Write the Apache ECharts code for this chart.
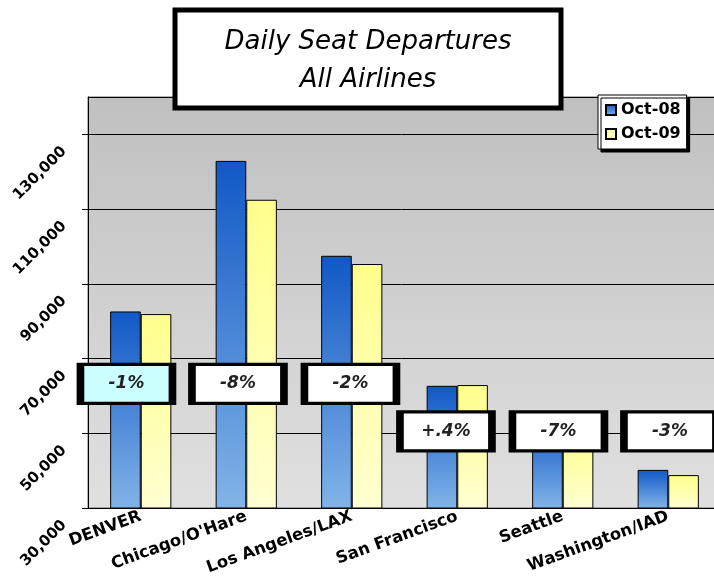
<!DOCTYPE html>
<html>
<head>
<meta charset="utf-8">
<script src="https://cdn.jsdelivr.net/npm/echarts@6/dist/echarts.min.js"></script>
<style>
  html, body { margin: 0; padding: 0; background: #fff; }
  #chart { width: 714px; height: 578px; }
</style>
</head>
<body>
<div id="chart"></div>
<script>
// data
const airports = ['DENVER', 'Chicago/O\'Hare', 'Los Angeles/LAX', 'San Francisco', 'Seattle', 'Washington/IAD'];
const oct08 = [82600, 122900, 97500, 62700, 53500, 40200];
const oct09 = [81900, 112500, 95300, 62900, 49800, 38800];
const changeLabels = ['-1%', '-8%', '-2%', '+.4%', '-7%', '-3%'];
const changeLevel = [63200, 63200, 63200, 50500, 50500, 50500];
const yTicks = { min: 30000, max: 140000, step: 20000 };

// sideways nudges of the change boxes (from the Oct-08 bar centre)
const boxNudge = [1, 7, 14, 4, 11, 17];

const font = 'Verdana, "DejaVu Sans", sans-serif';

let chart = echarts.init(document.getElementById('chart'));

const blueFill = new echarts.graphic.LinearGradient(0, 0, 0, 1, [
    { offset: 0, color: '#1158c6' },
    { offset: 1, color: '#82b4e8' }
]);
const yellowFill = new echarts.graphic.LinearGradient(0, 0, 0, 1, [
    { offset: 0, color: '#ffff8c' },
    { offset: 1, color: '#ffffd2' }
]);

const boxes = airports.map((name, i) => ({
    coord: [name, changeLevel[i]],
    value: changeLabels[i],
    symbolOffset: [boxNudge[i], 0],
    itemStyle: { color: i === 0 ? '#ccffff' : '#ffffff' }
}));

chart.setOption({
    animation: false,
    textStyle: { fontFamily: font },
    grid: {
        left: 88, top: 97, width: 633, bottom: 70,
        outerBoundsMode: 'none',
        show: true,
        borderColor: '#666',
        borderWidth: 1,
        backgroundColor: new echarts.graphic.LinearGradient(0, 0, 0, 1, [
            { offset: 0, color: '#c0c0c0' },
            { offset: 1, color: '#e0e0e0' }
        ])
    },
    legend: {
        orient: 'vertical',
        left: 598, top: 95,
        icon: 'rect',
        backgroundColor: '#fff',
        borderColor: '#000',
        borderWidth: 1,
        padding: [6, 6, 6, 7],
        itemWidth: 10, itemHeight: 10, itemGap: 6,
        shadowColor: '#000', shadowOffsetX: 3, shadowOffsetY: 3, shadowBlur: 0,
        textStyle: { fontSize: 16, fontWeight: 'bold', color: '#000', lineHeight: 18 },
        data: ['Oct-08', 'Oct-09']
    },
    xAxis: {
        type: 'category',
        data: airports,
        axisLine: { lineStyle: { color: '#000' } },
        axisTick: { lineStyle: { color: '#000' } },
        axisLabel: {
            interval: 0, rotate: 20, margin: 8,
            fontSize: 16.5, fontWeight: 'bold', color: '#000'
        }
    },
    yAxis: {
        type: 'value',
        min: yTicks.min, max: yTicks.max, interval: yTicks.step,
        axisLine: { show: true, lineStyle: { color: '#000' } },
        axisTick: { show: true, length: 6, lineStyle: { color: '#000' } },
        splitLine: { lineStyle: { color: '#000', width: 1 } },
        axisLabel: {
            rotate: 45, margin: 9, padding: [0, 21, 0, 0],
            showMaxLabel: false,
            fontSize: 15, fontWeight: 'bold', color: '#000',
            formatter: v => v.toLocaleString('en-US')
        }
    },
    series: [
        {
            name: 'Oct-08',
            type: 'bar',
            data: oct08,
            barGap: 0,
            barCategoryGap: '42%',
            itemStyle: { color: blueFill, borderColor: '#000', borderWidth: 1 },
            markPoint: {
                symbol: 'rect',
                symbolSize: [92, 39],
                z: 10,
                itemStyle: { borderColor: '#000', borderWidth: 5 },
                label: {
                    show: true,
                    formatter: p => p.value,
                    fontSize: 17, fontStyle: 'italic', fontWeight: 'bold', color: '#222'
                },
                data: boxes
            }
        },
        {
            name: 'Oct-09',
            type: 'bar',
            data: oct09,
            itemStyle: { color: yellowFill, borderColor: '#000', borderWidth: 1 }
        }
    ],
    graphic: [
        {
            type: 'rect',
            x: 175, y: 10,
            z: 20,
            shape: { width: 386, height: 98 },
            style: { fill: '#fff', stroke: '#000', lineWidth: 5 }
        },
        {
            type: 'text',
            x: 368, y: 42,
            z: 21,
            style: {
                text: 'Daily Seat Departures',
                fontSize: 26, fontStyle: 'italic', fontFamily: font,
                align: 'center', verticalAlign: 'middle', fill: '#000'
            }
        },
        {
            type: 'text',
            x: 368, y: 80,
            z: 21,
            style: {
                text: 'All Airlines',
                fontSize: 26, fontStyle: 'italic', fontFamily: font,
                align: 'center', verticalAlign: 'middle', fill: '#000'
            }
        }
    ]
});

window.addEventListener('resize', function () {
    chart.resize();
});
</script>
</body>
</html>
